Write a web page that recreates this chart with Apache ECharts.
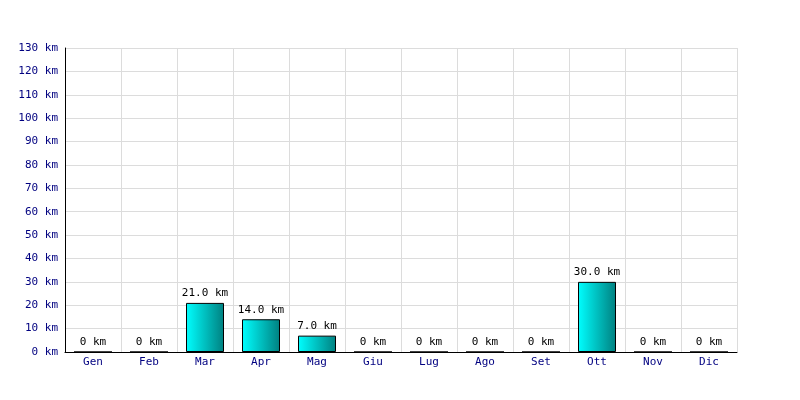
<!DOCTYPE html>
<html><head><meta charset="utf-8">
<script src="https://cdn.jsdelivr.net/npm/echarts@6/dist/echarts.min.js"></script>
<style>html,body{margin:0;padding:0;background:#fff}#c{width:800px;height:400px}</style>
</head><body><div id="c"></div>
<script>
var months = ['Gen','Feb','Mar','Apr','Mag','Giu','Lug','Ago','Set','Ott','Nov','Dic'];
var distances = [0,0,21,14,7,0,0,0,0,30,0,0];
var yMin = 0, yMax = 130, yStep = 10;
var font = 'DejaVu Sans Mono';
var chart = echarts.init(document.getElementById('c'), null, {renderer:'canvas'});
chart.setOption({
  animation:false,
  backgroundColor:'#ffffff',
  grid:{left:65,right:63,top:48,bottom:48},
  xAxis:{type:'category',data:months,
    axisLine:{lineStyle:{color:'#000',width:1}},
    axisTick:{show:false},
    axisLabel:{color:'#000080',fontFamily:font,fontSize:11,margin:5},
    splitLine:{show:true,lineStyle:{color:'#dcdcdc'}}},
  yAxis:{type:'value',min:yMin,max:yMax,interval:yStep,
    axisLine:{show:true,lineStyle:{color:'#000',width:1}},
    axisTick:{show:false},
    axisLabel:{color:'#000080',fontFamily:font,fontSize:11,margin:7,formatter:function(v){return v+' km';}},
    splitLine:{lineStyle:{color:'#dcdcdc'}}},
  series:[{type:'bar',data:distances,barWidth:38,
    itemStyle:{borderColor:'#000',borderWidth:1,
      color:new echarts.graphic.LinearGradient(0,0,1,0,[{offset:0,color:'#00ffff'},{offset:1,color:'#008080'}])},
    label:{show:true,position:'top',color:'#000',fontFamily:font,fontSize:11,distance:4,
      formatter:function(p){return p.value===0?'0 km':p.value.toFixed(1)+' km';}}}]
});
</script></body></html>
